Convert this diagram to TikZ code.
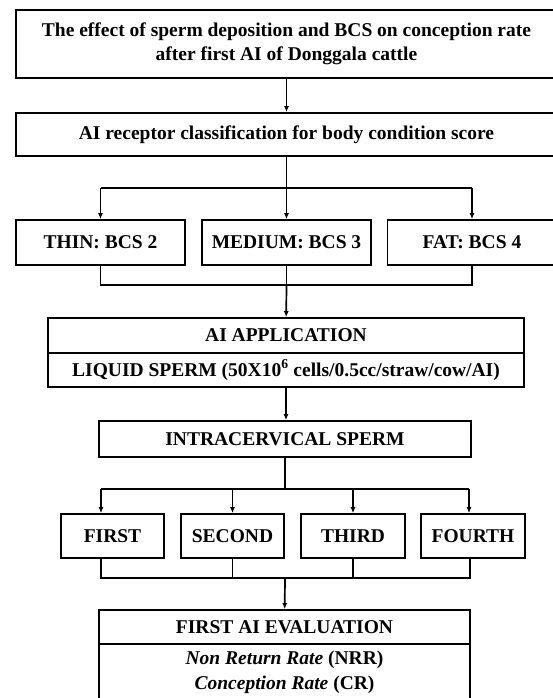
\documentclass[tikz,border=0pt]{standalone}
\usepackage{fontspec}
\setmainfont{Liberation Serif}
\usetikzlibrary{arrows.meta}

\begin{document}
\begin{tikzpicture}[x=1pt,y=-1pt,
    box/.style={draw, line width=1.7pt, inner sep=0pt, align=center,
      font=\bfseries\fontsize{19.5}{24}\selectfont},
    link/.style={line width=1.7pt},
    arr/.style={link, -{Latex[length=6pt,width=5pt]}}]
    \useasboundingbox (0,0) rectangle (553,698);
    \clip (0,0) rectangle (553,698);
    % boxes
    \node[box, minimum width=541pt, minimum height=68pt] (title) at (286.5,44)
        {The effect of sperm deposition and BCS on conception rate\\after first AI of Donggala cattle};
    \node[box, minimum width=541pt, minimum height=43pt] (recep) at (286.5,134.5)
        {AI receptor classification for body condition score};
    \node[box, minimum width=169pt, minimum height=45pt] (thin) at (100.5,242.5) {THIN: BCS 2};
    \node[box, minimum width=169pt, minimum height=45pt] (medium) at (286.5,242.5) {MEDIUM: BCS 3};
    \node[box, minimum width=169pt, minimum height=45pt] (fat) at (472,242.5) {FAT: BCS 4};
    \node[box, minimum width=476pt, minimum height=35pt] (aiapp) at (286,335.5) {AI APPLICATION};
    \node[box, minimum width=476pt, minimum height=34pt] (liquid) at (286,370)
        {LIQUID SPERM (50X10\textsuperscript{6} cells/0.5cc/straw/cow/AI)};
    \node[box, minimum width=372pt, minimum height=36pt] (intra) at (285,439) {INTRACERVICAL SPERM};
    \node[box, minimum width=103pt, minimum height=44pt] (first) at (112.5,536) {FIRST};
    \node[box, minimum width=103pt, minimum height=44pt] (second) at (232.5,536) {SECOND};
    \node[box, minimum width=104pt, minimum height=44pt] (third) at (353,536) {THIRD};
    \node[box, minimum width=104pt, minimum height=44pt] (fourth) at (473,536) {FOURTH};
    \node[box, minimum width=371pt, minimum height=34pt] (evalhead) at (284.5,627) {FIRST AI EVALUATION};
    \node[box, minimum width=371pt, minimum height=57pt, font=\fontsize{19.5}{25}\selectfont] (evalbody) at (284.5,672.5)
        {\textbf{\textit{Non Return Rate}} \textbf{(NRR)}\\\textbf{\textit{Conception Rate}} \textbf{(CR)}};
    % branch and join points
    \coordinate (s1) at (286.5,188);
    \coordinate (j1) at (286.5,285);
    \coordinate (s2) at (285,489);
    \coordinate (s2l) at (101,489);
    \coordinate (s2r) at (469,489);
    \coordinate (j2) at (285,578);
    \coordinate (j2l) at (101,578);
    \coordinate (j2r) at (470,578);
    % connectors
    \draw[arr] (title) -- (recep);
    \draw[link] (recep) -- (s1);
    \draw[link] (s1 -| thin) -- (s1 -| fat);
    \draw[arr] (s1 -| thin) -- (thin);
    \draw[arr] (s1) -- (medium);
    \draw[arr] (s1 -| fat) -- (fat);
    \draw[link] (thin) |- (j1) -| (fat);
    \draw[link] (medium) -- (j1);
    \draw[arr] (j1) -- (aiapp);
    \draw[arr] (liquid) -- (intra.north -| liquid);
    \draw[link] (intra.south -| s2) -- (s2);
    \draw[link] (s2l) -- (s2r);
    \draw[arr] (s2l) -- (s2l |- first.north);
    \draw[arr] (s2 -| second) -- (second);
    \draw[arr] (s2 -| third) -- (third);
    \draw[arr] (s2r) -- (s2r |- fourth.north);
    \draw[link] (j2l |- first.south) -- (j2l) -- (j2r) -- (j2r |- fourth.south);
    \draw[link] (second) -- (j2 -| second);
    \draw[link] (third) -- (j2 -| third);
    \draw[arr] (j2) -- (evalhead);
\end{tikzpicture}
\end{document}
